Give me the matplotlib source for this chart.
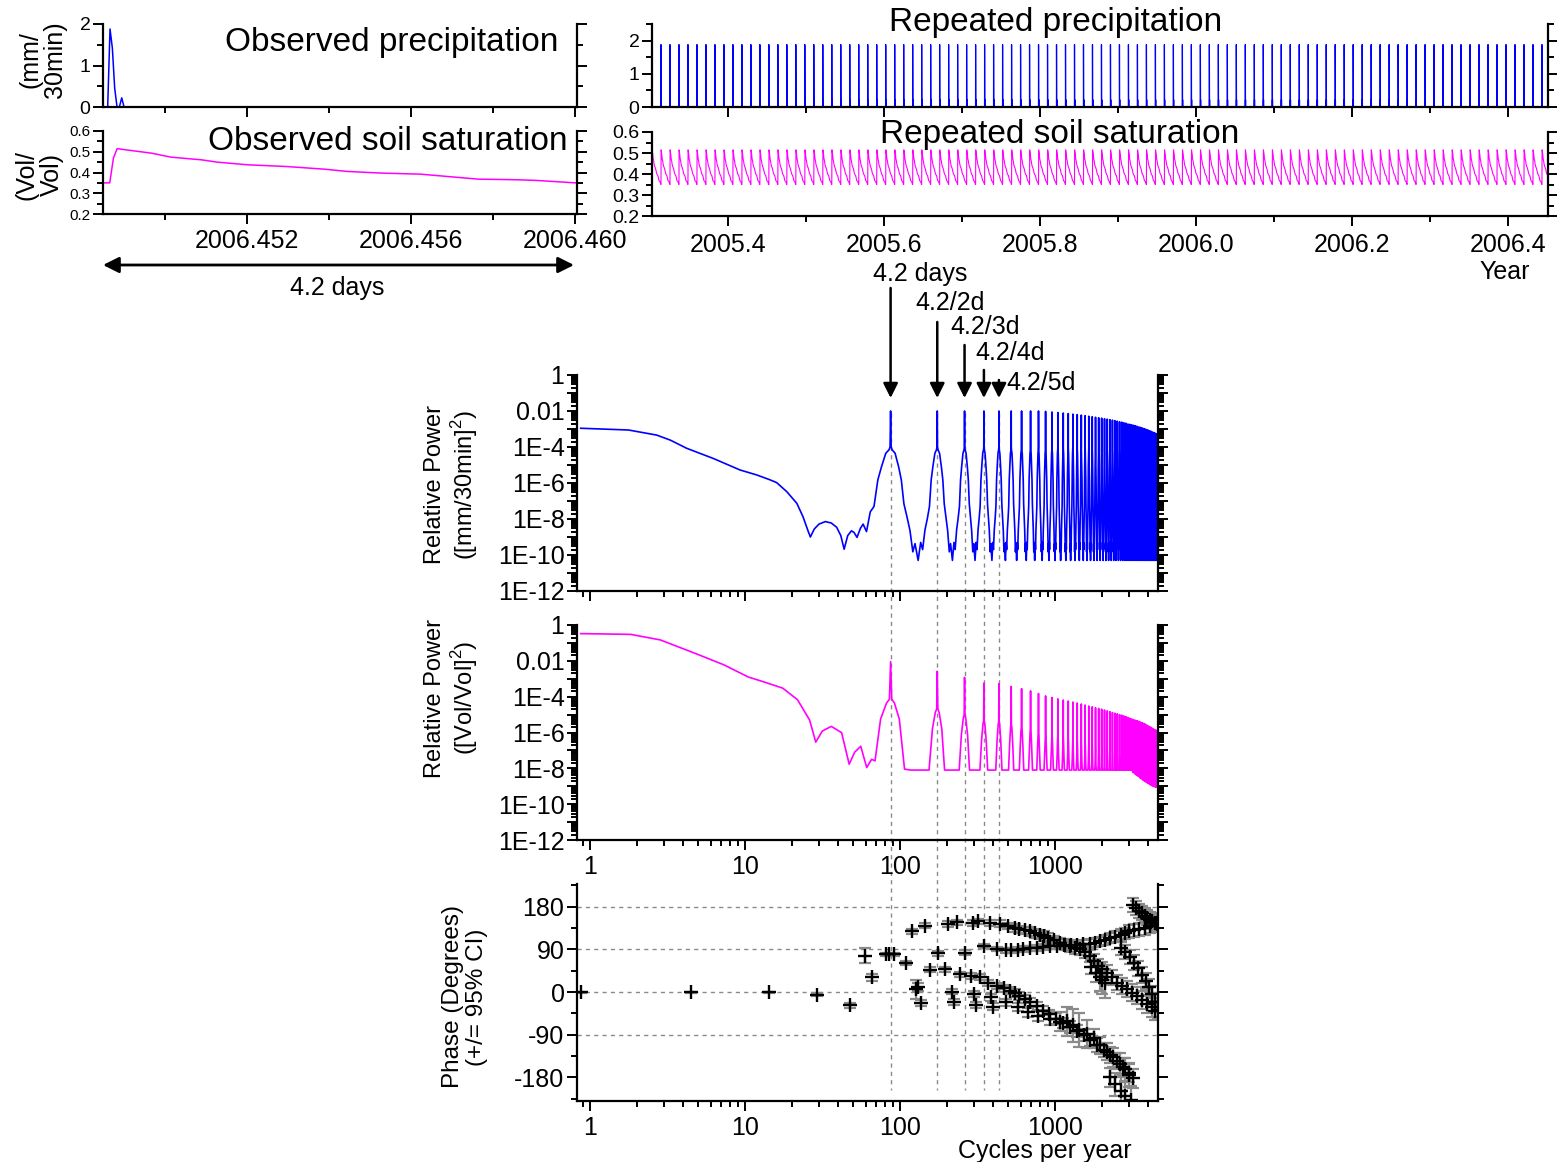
import numpy as np
import matplotlib
matplotlib.use('Agg')
import matplotlib.pyplot as plt
from matplotlib.ticker import MultipleLocator, FixedLocator, LogLocator, FuncFormatter, NullFormatter
from matplotlib.transforms import blended_transform_factory
from matplotlib.lines import Line2D
from matplotlib.patches import FancyArrowPatch

plt.rcParams['font.family'] = ['Liberation Sans', 'DejaVu Sans']
plt.rcParams['mathtext.fontset'] = 'custom'
plt.rcParams['mathtext.rm'] = 'Liberation Sans'
plt.rcParams['axes.unicode_minus'] = False

# ---- observed 4.2-day record (30 min steps) ----
obs_start = 2006.4485          # decimal year of first sample
step_days = 0.5 / 24
n_steps = 202
rain_idx = [3, 4, 5, 8]
rain_mm = [1.88, 1.42, 0.45, 0.22]

soil_day = [0.0, 0.06, 0.093, 0.126, 0.194, 0.434, 0.605, 0.878, 1.016, 1.289,
            1.63, 1.972, 2.177, 2.486, 2.827, 3.169, 3.34, 3.682, 3.853, 4.2083]
soil_vv = [0.35, 0.35, 0.47, 0.515, 0.51, 0.493, 0.474, 0.461, 0.45, 0.437,
           0.429, 0.416, 0.405, 0.397, 0.392, 0.376, 0.368, 0.365, 0.362, 0.35]

rep_start = 2005.2909          # first copy of the record in the repeated series
n_rep = 102

# ---- power spectra ----
f0 = 365.25 / 4.2              # cycles per year of the 4.2 day repeat
blue_lf_f = [0.87, 1.77, 2.69, 3.3, 4.2, 6.25, 9.28, 11.9, 14.5, 16.0, 18.6, 21.6, 23.7,
             25.5, 26.4, 28.0, 30.0, 33.0, 36.0, 39.0, 41.5, 43.6, 46.0, 48.6, 50.5, 52.8,
             55.5, 57.8, 60.8, 64.3]
blue_lf_p = [1.1e-3, 8.8e-4, 4.6e-4, 2.4e-4, 8.5e-5, 2.3e-5, 5.3e-6, 2.8e-6, 1.5e-6, 1.05e-6,
             3.3e-7, 7.4e-8, 1.3e-8, 2.2e-9, 1e-9, 2.8e-9, 5.2e-9, 7.2e-9, 6e-9, 3.5e-9,
             1.2e-9, 2.1e-10, 1.2e-9, 2.2e-9, 1.8e-9, 9.5e-10, 3e-9, 5.2e-9, 2e-9, 2.5e-8]
hump_off = [-43, -38, -34, -29, -24, -19, -15, -11, -6, -2, -0.7, 0,
            0.7, 2, 6, 11, 15, 19, 24, 29, 34, 38]
blue_hump = [5e-11, 5e-10, 2e-10, 2.5e-9, 1e-8, 5e-8, 1.5e-6, 8e-6, 4.5e-5, 7e-5, 1e-4, np.nan,
             1e-4, 7e-5, 4.5e-5, 8e-6, 1.5e-6, 7e-8, 1.3e-8, 2.3e-9, 1.5e-10, 4.3e-10]
blue_peaks = [0.01, 0.01, 0.01, 0.01, 0.01, 0.01, 0.01, 0.01, 0.01, 0.0095,
              0.0088, 0.0082, 0.0077, 0.0072, 0.0067, 0.0063, 0.0059, 0.0055, 0.0051, 0.0048,
              0.0045, 0.0042, 0.0040, 0.0037, 0.0035, 0.0033, 0.0031, 0.0029, 0.0027, 0.0025,
              0.0024, 0.0022, 0.0021, 0.0019, 0.0018, 0.0017, 0.0016, 0.0015, 0.0014, 0.0013,
              0.00122, 0.00114, 0.00106, 0.00099, 0.00092, 0.00085, 0.00079, 0.00073, 0.00068, 0.00063,
              0.00058, 0.00054, 0.0005]

pink_lf_f = [0.87, 1.83, 2.84, 4.72, 7.3, 10.5, 13.0, 17.5, 21.8, 26.1, 28.6, 31.5,
             36.0, 42.0, 47.0, 51.0, 55.8, 61.0, 65.6, 69.0]
pink_lf_p = [0.33, 0.30, 0.147, 0.027, 6e-3, 1.25e-3, 7e-4, 3e-4, 6.8e-5, 5e-6, 2.9e-7, 1.2e-6,
             2.2e-6, 9.8e-7, 1.7e-8, 8e-8, 1.7e-7, 1.1e-8, 3.2e-8, 2.6e-8]
pink_off = [-43, -30, -20, -12, -5, -1.5, 0, 1.5, 5, 12, 20, 30]
pink_drop = [9, 9, 6, 3.2, 2.3, 2.1, 0, 2.1, 2.3, 3.2, 6, 9]     # decades below the peak
pink_peaks = [9e-3, 2.6e-3, 1.2e-3, 5.7e-4, 5.3e-4, 3.7e-4, 2.8e-4, 2.1e-4, 1.5e-4, 1.1e-4,
              9e-5, 7.5e-5, 6.5e-5, 5.7e-5, 5e-5, 4.4e-5, 3.9e-5, 3.4e-5, 3e-5, 2.7e-5,
              2.4e-5, 2.2e-5, 2e-5, 1.8e-5, 1.6e-5, 1.45e-5, 1.3e-5, 1.2e-5, 1.1e-5, 1e-5,
              9.2e-6, 8.4e-6, 7.6e-6, 6.9e-6, 6.3e-6, 5.7e-6, 5.2e-6, 4.8e-6, 4.5e-6, 4.2e-6,
              3.8e-6, 3.5e-6, 3.2e-6, 2.9e-6, 2.6e-6, 2.3e-6, 2.1e-6, 1.9e-6, 1.7e-6, 1.5e-6,
              1.4e-6, 1.3e-6, 1.2e-6]
pink_floor = [8e-9] * 36 + [6e-9, 5e-9, 4.2e-9, 3.6e-9, 3e-9, 2.6e-9, 2.2e-9, 1.9e-9, 1.7e-9,
                            1.5e-9, 1.35e-9, 1.2e-9, 1.1e-9, 1e-9, 9.5e-10, 9e-10, 8.5e-10]

# ---- cross-spectral phase, groups of (freq, phase, 95% CI) ----
phase_groups = [
    ([0.87, 4.5, 14.2, 29.0, 47.5, 59.3, 65.6, 80.8, 85.0, 91.5, 109, 127.5, 130],
     [0, 0, 0, -6, -28, 77, 31, 80, 80, 80, 61, 6, 10],
     [1, 1, 1, 3, 5, 16, 8, 3, 3, 3, 5, 20, 8]),
    ([118.7, 145, 204, 232, 296, 318, 383, 440, 496, 550, 590, 640, 688, 740, 798, 850, 905,
      990, 1070, 1160, 1250, 1350, 1450, 1560, 1680, 1790, 1900, 2020, 2150, 2320, 2500, 2700,
      2900, 3130, 3380, 3650, 3920, 4200, 4450],
     [128, 140, 144, 147, 146, 149, 146, 144, 139, 135, 132, 130, 128, 124, 121, 118, 114,
      109, 104, 100, 97, 93, 90, 84, 76, 66, 55, 48, 41, 31, 20, 13, 6, -1, -8, -16, -25, -32, -39],
     [5, 5, 6, 6, 6, 6, 7, 7, 7, 8, 8, 8, 9, 9, 9, 10, 10, 10, 11, 11, 12, 12, 12, 13, 13, 14,
      14, 15, 15, 16, 16, 17, 17, 18, 18, 19, 19, 20, 20]),
    ([176, 261, 348, 420, 480, 524, 575, 625, 690, 760, 840, 930, 1030, 1140, 1260, 1380, 1520,
      1680, 1810, 1940, 2100, 2270, 2450, 2650, 2830, 3020, 3250, 3500, 3800, 4130, 4520],
     [82, 83, 97, 91, 88, 88, 89, 91, 92, 93, 95, 97, 98, 99, 100, 100, 101, 102, 104, 107, 110,
      114, 117, 121, 124, 128, 130, 132, 135, 139, 146],
     [5, 5, 5, 5, 5, 5, 5, 6, 6, 6, 6, 7, 7, 7, 8, 8, 8, 9, 9, 10, 10, 11, 11, 12, 12, 13, 13,
      14, 14, 15, 15]),
    ([156, 196, 243, 288, 328, 369, 420, 470, 510, 550, 590, 640, 690, 760, 840, 920, 1010,
      1120, 1250, 1380, 1530, 1690, 1860, 2060, 2270, 2500, 2760, 3000, 3210],
     [47, 48, 37, 34, 31, 19, 13, 8, 3, -2, -8, -15, -22, -30, -39, -47, -56, -65, -74, -82,
      -91, -101, -112, -122, -133, -145, -158, -170, -182],
     [5, 5, 6, 6, 6, 7, 7, 7, 8, 8, 8, 9, 9, 9, 10, 10, 11, 11, 12, 12, 13, 13, 14, 15, 16, 17,
      18, 19, 20]),
    ([137, 215, 222, 300, 310, 389, 400, 480, 575, 670, 780, 930, 1070, 1200, 1300, 1420, 1600,
      1790, 1960, 2150, 2380, 2640, 2820, 3000],
     [-23, 1, -21, -4, -27, -11, -31, -22, -32, -43, -50, -56, -63, -62, -70, -80, -88, -98,
      -112, -126, -138, -151, -163, -175],
     [6, 6, 6, 6, 6, 7, 7, 8, 9, 10, 12, 14, 20, 30, 35, 35, 30, 20, 18, 18, 20, 22, 24, 25]),
    ([2250, 2450, 2650, 2850, 3100],
     [-180, -195, -208, -220, -228],
     [20, 24, 28, 30, 30]),
    ([3200, 3350, 3500, 3650, 3800, 3950, 4100, 4250, 4400, 4550],
     [184, 177, 171, 166, 161, 157, 153, 149, 146, 143],
     [15, 15, 15, 15, 16, 16, 16, 17, 17, 17]),
    ([2650, 2850, 3050, 3250, 3450, 3650, 3850, 4050, 4250, 4450, 4600],
     [92, 84, 74, 62, 50, 36, 24, 10, -5, -22, -38],
     [14, 15, 15, 16, 16, 17, 17, 18, 18, 19, 19]),
    ([1700, 1850, 1940, 2020, 2100],
     [52, 41, 31, 25, 18],
     [15, 20, 28, 30, 30]),
]
harmonic_marks = [1, 2, 3, 4, 5]
harmonic_text = ['4.2 days', '4.2/2d', '4.2/3d', '4.2/4d', '4.2/5d']

BLUE = '#0000ff'
MAGENTA = '#ff00ff'
GREY = '#8a8a8a'

W, H = 1557, 1162
fig = plt.figure(figsize=(W / 100, H / 100), dpi=100)


def box(l, t, r, b):
    return fig.add_axes([l / W, 1 - b / H, (r - l) / W, (b - t) / H])


def frame(ax, size):
    ax.spines['top'].set_visible(False)
    for s in ('left', 'right', 'bottom'):
        ax.spines[s].set_linewidth(1.6)
    ax.tick_params(which='both', direction='out', right=True, top=False,
                   labelright=False, width=1.4, labelsize=size, pad=2)
    ax.tick_params(which='major', length=7)
    ax.tick_params(which='minor', length=4)


# ---------- time series ----------
rain = np.zeros(n_steps)
rain[rain_idx] = rain_mm
t_obs = obs_start + np.arange(n_steps) * step_days / 365.25
soil_t_obs = obs_start + np.array(soil_day) / 365.25

period = n_steps * step_days
t_rep = rep_start + np.arange(n_steps * n_rep) * step_days / 365.25
rain_rep = np.tile(rain, n_rep)
soil_t_rep = rep_start + (np.concatenate([np.array(soil_day) + i * period
                                          for i in range(n_rep)])) / 365.25
soil_rep = np.tile(soil_vv, n_rep)

ax1 = box(103, 24, 577, 107)
ax1.plot(t_obs, rain, color=BLUE, lw=1.1)
ax1.set_ylim(0, 2)
ax1.yaxis.set_major_locator(MultipleLocator(1))
ax1.yaxis.set_minor_locator(MultipleLocator(0.5))
ax2 = box(103, 131, 577, 214)
ax2.plot(soil_t_obs, soil_vv, color=MAGENTA, lw=1.1)
ax2.set_ylim(0.2, 0.6)
ax2.yaxis.set_major_locator(MultipleLocator(0.1))
ax2.yaxis.set_minor_locator(MultipleLocator(0.05))
for ax in (ax1, ax2):
    ax.set_xlim(obs_start, obs_start + 4.22 / 365.25)
    ax.xaxis.set_major_locator(FixedLocator([2006.452, 2006.456, 2006.460]))
    ax.xaxis.set_minor_locator(FixedLocator([2006.450, 2006.454, 2006.458]))
    ax.xaxis.set_major_formatter(FuncFormatter(lambda v, p: f'{v:.3f}'))
frame(ax1, 14)
frame(ax2, 11)
ax1.tick_params(labelbottom=False)
ax2.tick_params(axis='x', labelsize=18, pad=4)

ax3 = box(652, 24, 1548, 107)
ax3.plot(t_rep, rain_rep, color=BLUE, lw=0.9)
ax3.set_ylim(0, 2.5)
ax3.yaxis.set_major_locator(MultipleLocator(1))
ax3.yaxis.set_minor_locator(MultipleLocator(0.5))
ax4 = box(652, 132, 1548, 216)
ax4.plot(soil_t_rep, soil_rep, color=MAGENTA, lw=0.8)
ax4.set_ylim(0.2, 0.6)
ax4.yaxis.set_major_locator(MultipleLocator(0.1))
ax4.yaxis.set_minor_locator(MultipleLocator(0.05))
for ax in (ax3, ax4):
    ax.set_xlim(2005.3026, 2006.451)
    ax.xaxis.set_major_locator(MultipleLocator(0.2))
    ax.xaxis.set_minor_locator(MultipleLocator(0.1))
    ax.xaxis.set_major_formatter(FuncFormatter(lambda v, p: f'{v:.1f}'))
frame(ax3, 14)
frame(ax4, 14)
ax3.tick_params(labelbottom=False)
ax4.tick_params(axis='x', labelsize=18, pad=5)

fig.text(558 / W, 1 - 42 / H, 'Observed precipitation', fontsize=24, ha='right', va='center')
fig.text(568 / W, 1 - 141 / H, 'Observed soil saturation', fontsize=24, ha='right', va='center')
fig.text(1056 / W, 1 - 22 / H, 'Repeated precipitation', fontsize=24, ha='center', va='center')
fig.text(1060 / W, 1 - 134 / H, 'Repeated soil saturation', fontsize=24, ha='center', va='center')
fig.text(43 / W, 1 - 60 / H, '(mm/\n30min)', fontsize=18, rotation=90,
         ha='center', va='center', multialignment='center', linespacing=1.0)
fig.text(39 / W, 1 - 175 / H, '(Vol/\nVol)', fontsize=18, rotation=90,
         ha='center', va='center', multialignment='center', linespacing=1.05)
fig.text(1505 / W, 1 - 272 / H, 'Year', fontsize=18, ha='center', va='center')
fig.text(337 / W, 1 - 288 / H, '4.2 days', fontsize=18, ha='center', va='center')
fig.add_artist(FancyArrowPatch(
    (103 / W, 1 - 265 / H), (574 / W, 1 - 265 / H), transform=fig.transFigure,
    arrowstyle='<|-|>', mutation_scale=24, lw=2, color='k', shrinkA=0, shrinkB=0))


# ---------- spectra ----------
def build_blue():
    f, p = list(blue_lf_f), list(blue_lf_p)
    for k, peak in enumerate(blue_peaks, start=1):
        for off, v in zip(hump_off, blue_hump):
            fr = k * f0 + off
            if fr <= blue_lf_f[-1]:
                continue
            f.append(fr)
            p.append(peak if off == 0 else v)
    return np.array(f), np.array(p)


def build_pink():
    f, p = list(pink_lf_f), list(pink_lf_p)
    for k, (peak, floor) in enumerate(zip(pink_peaks, pink_floor), start=1):
        for off, d in zip(pink_off, pink_drop):
            fr = k * f0 + off
            if fr <= pink_lf_f[-1]:
                continue
            f.append(fr)
            p.append(max(peak * 10.0 ** (-d), floor))
    return np.array(f), np.array(p)


def pow_label(v, pos):
    e = int(round(np.log10(v)))
    if e % 2:
        return ''
    if e == 0:
        return '1'
    if e == -2:
        return '0.01'
    return f'1E{e}'


XLIM = (0.824, 4620)
ax5 = box(577, 375, 1158, 591)
ax6 = box(577, 625, 1158, 840)
ax7 = box(577, 884, 1158, 1101)

bf, bp = build_blue()
pf, pp = build_pink()
ax5.plot(bf, bp, color=BLUE, lw=1.2, zorder=2)
ax6.plot(pf, pp, color=MAGENTA, lw=1.2, zorder=2)

for ax in (ax5, ax6):
    ax.set_yscale('log')
    ax.set_ylim(1e-12, 1)
    ax.yaxis.set_major_locator(LogLocator(base=10, numticks=30))
    ax.yaxis.set_minor_locator(LogLocator(base=10, subs=np.arange(2, 10), numticks=30))
    ax.yaxis.set_major_formatter(FuncFormatter(pow_label))
    ax.yaxis.set_minor_formatter(NullFormatter())

for ax in (ax5, ax6, ax7):
    ax.set_xscale('log')
    ax.set_xlim(*XLIM)
    ax.xaxis.set_major_locator(FixedLocator([1, 10, 100, 1000]))
    ax.xaxis.set_minor_locator(LogLocator(base=10, subs=np.arange(2, 10), numticks=30))
    ax.xaxis.set_major_formatter(FuncFormatter(lambda v, p: f'{v:g}'))
    ax.xaxis.set_minor_formatter(NullFormatter())
    ax.patch.set_visible(False)
    frame(ax, 18)
    ax.tick_params(axis='x', pad=4)
ax5.tick_params(labelbottom=False)

# phase panel
ax7.set_ylim(-230, 228)
ax7.yaxis.set_major_locator(FixedLocator([-180, -90, 0, 90, 180]))
ax7.yaxis.set_minor_locator(MultipleLocator(45))
for level in (180, 90, 0, -90):
    ax7.axhline(level, color=GREY, lw=1, ls=(0, (3, 3)), zorder=0)
for f, ph, ci in phase_groups:
    ax7.errorbar(f, ph, yerr=ci, fmt='none', ecolor=GREY, elinewidth=1.6,
                 capsize=4, capthick=1.6, zorder=2)
    ax7.plot(f, ph, ls='none', marker='+', ms=10, mew=1.7, color='k', zorder=3)

# harmonic guide lines running through all three spectral panels
trans = blended_transform_factory(ax7.transData, fig.transFigure)
for k in harmonic_marks:
    fig.add_artist(Line2D([k * f0, k * f0], [1 - 413 / H, 1 - 1090 / H], transform=trans,
                          color=GREY, lw=1, ls=(0, (3, 3)), zorder=-1))

# arrows marking the repeat frequency and its harmonics
arrow_top = [288, 322, 345, 370, 380]
text_xy = [(920, 274, 'center'), (915, 303, 'left'), (950, 327, 'left'),
           (975, 353, 'left'), (1006, 383, 'left')]
for k, top, (tx, ty, ha), lab in zip(harmonic_marks, arrow_top, text_xy, harmonic_text):
    ax5.annotate('', xy=(k * f0, H - 398), xytext=(k * f0, H - top),
                 xycoords=('data', 'figure pixels'), textcoords=('data', 'figure pixels'),
                 arrowprops=dict(arrowstyle='-|>', mutation_scale=22, lw=1.8, color='k',
                                 shrinkA=0, shrinkB=0), annotation_clip=False)
    fig.text(tx / W, 1 - ty / H, lab, fontsize=18, ha=ha, va='center')

fig.text(452 / W, 1 - 485 / H, 'Relative Power\n([mm/30min]$^2$)', fontsize=17, rotation=90,
         ha='center', va='center', multialignment='center', linespacing=1.1)
fig.text(452 / W, 1 - 698 / H, 'Relative Power\n([Vol/Vol]$^2$)', fontsize=17, rotation=90,
         ha='center', va='center', multialignment='center', linespacing=1.1)
fig.text(465 / W, 1 - 997 / H, 'Phase (Degrees)\n(+/= 95% CI)', fontsize=17.5, rotation=90,
         ha='center', va='center', multialignment='center', linespacing=1.1)
fig.text(1045 / W, 1 - 1151 / H, 'Cycles per year', fontsize=18, ha='center', va='center')

fig.savefig('out.png', dpi=100)
